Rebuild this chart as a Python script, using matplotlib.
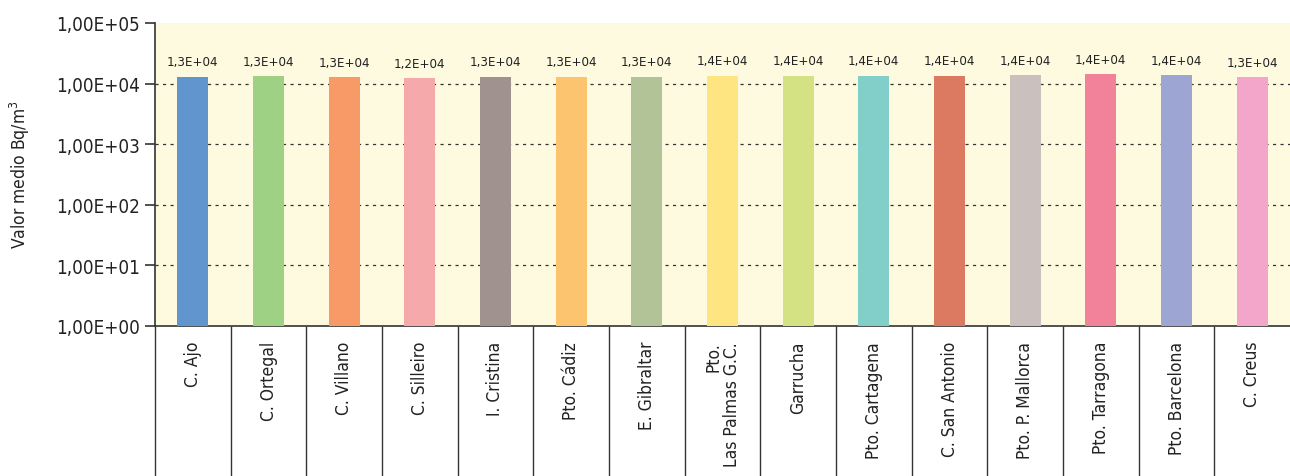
import matplotlib
matplotlib.use("Agg")
import matplotlib.pyplot as plt
import matplotlib.transforms as mtransforms
import numpy as np

plt.rcParams['font.family'] = ['DejaVu Sans']
plt.rcParams['font.stretch'] = 'condensed'
plt.rcParams['mathtext.fontset'] = 'custom'
plt.rcParams['mathtext.rm'] = 'DejaVu Sans:stretch=condensed'

categories = ["C. Ajo", "C. Ortegal", "C. Villano", "C. Silleiro", "I. Cristina",
              "Pto. Cádiz", "E. Gibraltar", "Pto.\nLas Palmas G.C.", "Garrucha",
              "Pto. Cartagena", "C. San Antonio", "Pto. P. Mallorca", "Pto. Tarragona",
              "Pto. Barcelona", "C. Creus"]
values = [1.30e4, 1.31e4, 1.27e4, 1.22e4, 1.30e4, 1.30e4, 1.30e4, 1.36e4, 1.36e4,
          1.36e4, 1.36e4, 1.37e4, 1.42e4, 1.37e4, 1.27e4]
colors = ["#6095CE", "#9ED184", "#F79A68", "#F5A9AA", "#A0928F", "#FDC470", "#B1C397",
          "#FFE482", "#D5E283", "#82CFC9", "#DB7A61", "#CAC0BD", "#F2829A", "#9DA6D3",
          "#F4A5CA"]
yticks = [1e0, 1e1, 1e2, 1e3, 1e4, 1e5]
yticklabels = ["1,00E+00", "1,00E+01", "1,00E+02", "1,00E+03", "1,00E+04", "1,00E+05"]

W, H = 1290, 477
fig = plt.figure(figsize=(W / 100, H / 100), dpi=100)
ax = fig.add_axes([155 / W, 1 - 327 / H, (1290 - 155) / W, (327 - 24) / H])
ax.set_facecolor("#FEFADF")

x = np.arange(len(categories))
ax.bar(x, values, width=0.41, color=colors, zorder=3)
ax.set_yscale("log")
ax.set_ylim(1, 1e5)
ax.set_xlim(-0.5, len(categories) - 0.5)

for yv in yticks[1:-1]:
    ax.axhline(yv, color="#333333", lw=0.9, ls=(0, (2.5, 3.5)), zorder=1)

for xi, v in zip(x, values):
    mant = v / 10 ** np.floor(np.log10(v))
    exp = int(np.floor(np.log10(v)))
    lab = f"{mant:.1f}".replace(".", ",") + f"E+{exp:02d}"
    ax.annotate(lab, (xi, v), xytext=(0, 6), textcoords="offset points",
                ha="center", va="bottom", fontsize=9.5, color="#222222")

ax.set_yticks(yticks)
ax.set_yticklabels(yticklabels, fontsize=13.5, color="#222222")
ax.minorticks_off()
ax.tick_params(axis="y", length=7, width=1.2, color="#333333", pad=4)
ax.set_xticks([])
for s in ["top", "right"]:
    ax.spines[s].set_visible(False)
ax.spines["left"].set_color("#333333")
ax.spines["left"].set_linewidth(1.2)
ax.spines["bottom"].set_color("#333333")
ax.spines["bottom"].set_linewidth(1.2)

trans = mtransforms.blended_transform_factory(ax.transData, ax.transAxes)
bottom_ax = -(H - 327) / (327 - 24)
ax.vlines(np.arange(len(categories)) - 0.5, bottom_ax, 0, transform=trans,
          colors="#333333", lw=1.0, clip_on=False)
for xi, c in zip(x, categories):
    ax.text(xi, -15 / (327 - 24), c, transform=trans, rotation=90, ha="center",
            va="top", multialignment="right", fontsize=12.5, color="#222222",
            linespacing=1.0)

fig.text(20 / W, 1 - 175 / H, "Valor medio Bq/m$^3$", rotation=90, ha="center",
         va="center", fontsize=12.5, color="#222222")

fig.savefig("out.png", dpi=100)
